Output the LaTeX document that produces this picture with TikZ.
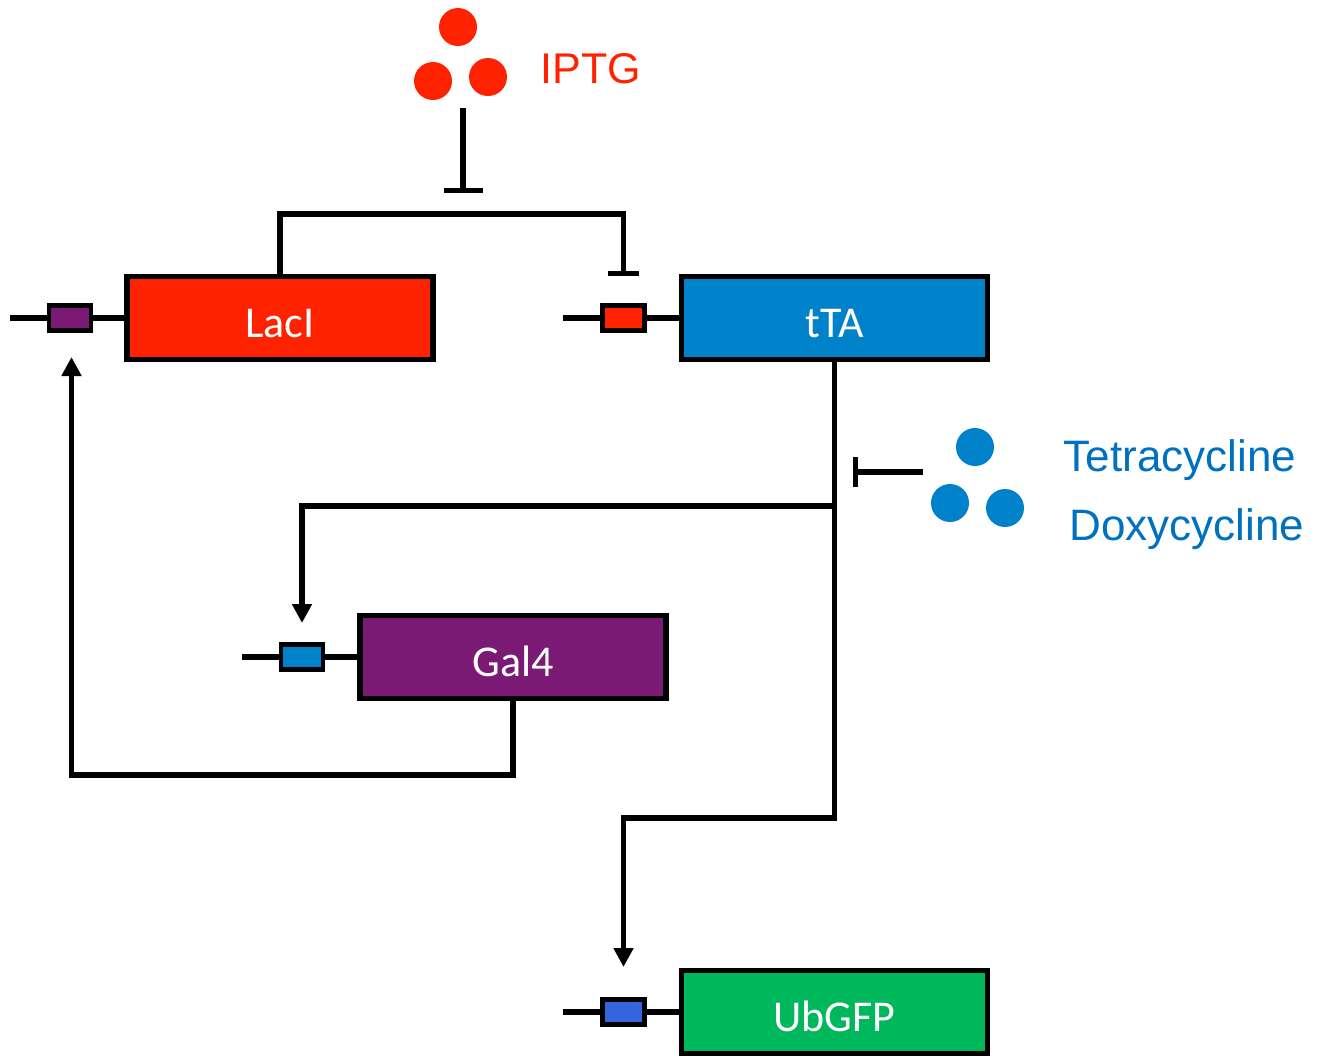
\documentclass[tikz,border=0pt]{standalone}
\usepackage{fontspec}
\setmainfont{Carlito}
\newfontfamily\arialf{Liberation Sans}
\usetikzlibrary{arrows.meta}
\definecolor{lacired}{HTML}{FF2200}
\definecolor{ttablue}{HTML}{0082CA}
\definecolor{galpurple}{HTML}{7A1A74}
\definecolor{gfpgreen}{HTML}{00B85C}
\definecolor{gfpprom}{HTML}{3366DD}
\definecolor{tetblue}{HTML}{0070C0}
\begin{document}
\begin{tikzpicture}[x=0.5pt,y=-0.5pt,line width=2.6pt,
  gene/.style={draw=black,line width=2.6pt,minimum width=153pt,minimum height=41.5pt,
    inner sep=0pt,text=white,font=\fontsize{22}{26}\selectfont,text height=19pt,text depth=0pt},
  prom/.style={draw=black,line width=2.2pt,minimum width=21pt,minimum height=12.5pt,inner sep=0pt},
  act/.style={-{Triangle[width=9.5pt,length=9.5pt]}},
  rep/.style={-{Bar[width=#1]}},
  mol/.style={circle,minimum size=19pt,inner sep=0pt},
  lbl/.style={font=\arialf\fontsize{21.5}{26}\selectfont,anchor=base west,inner sep=0pt}]
\useasboundingbox (0,0) rectangle (1321,1056);

% genes
\node[gene,fill=lacired] (laci) at (280,318) {LacI};
\node[gene,fill=ttablue] (tta) at (834.5,318) {tTA};
\node[gene,fill=galpurple] (gal4) at (513,657) {Gal4};
\node[gene,fill=gfpgreen] (ubgfp) at (834.5,1012) {UbGFP};

% promoters
\node[prom,fill=galpurple] (plac) at (70,318) {};
\node[prom,fill=lacired] (ptta) at (623.5,318) {};
\node[prom,fill=ttablue] (pgal) at (302,657) {};
\node[prom,fill=gfpprom] (pgfp) at (623.5,1012) {};

% backbones
\coordinate (lacstart) at (10,318);
\coordinate (ttastart) at (563,318);
\coordinate (galstart) at (242,657);
\coordinate (gfpstart) at (563,1012);
\draw (lacstart) -- (plac.west) (plac.east) -- (laci.west);
\draw (ttastart) -- (ptta.west) (ptta.east) -- (tta.west);
\draw (galstart) -- (pgal.west) (pgal.east) -- (gal4.west);
\draw (gfpstart) -- (pgfp.west) (pgfp.east) -- (ubgfp.west);

% IPTG
\node[mol,fill=lacired] (i1) at (458,27) {};
\node[mol,fill=lacired] (i2) at (433,81) {};
\node[mol,fill=lacired] (i3) at (488,77) {};
\node[lbl,text=lacired] (iptg) at (538,83) {IPTG};
\coordinate (iptgtop) at (463,108);
\coordinate (iptgbar) at (463,193);
\draw[rep=19.5pt] (iptgtop) -- (iptgbar);

% LacI represses tTA promoter
\coordinate (ttarep) at (623.5,276);
\coordinate (lacitop) at (280,214);
\draw[rep=15.5pt] (laci.north) -- (lacitop) -| (ttarep);

% tTA outputs
\coordinate (branch) at (834.5,506);
\coordinate (gfpbend) at (834.5,818);
\coordinate (galin) at (302,623);
\coordinate (gfpin) at (623.5,967);
\draw[act] (tta.south) -- (gfpbend) -| (gfpin);
\draw[act] (branch) -| (galin);

% Tetracycline / Doxycycline
\node[mol,fill=ttablue] (t1) at (975,447) {};
\node[mol,fill=ttablue] (t2) at (950,503) {};
\node[mol,fill=ttablue] (t3) at (1005,508) {};
\node[lbl,text=tetblue,font=\arialf\fontsize{22}{26}\selectfont] (tet) at (1061,471) {Tetracycline};
\node[lbl,text=tetblue,font=\arialf\fontsize{22}{26}\selectfont] (doxy) at (1067,540) {Doxycycline};
\coordinate (tetstart) at (923,472);
\coordinate (tetbar) at (853,472);
\draw[rep=15pt] (tetstart) -- (tetbar);

% Gal4 activates LacI promoter
\coordinate (galbend) at (513,775);
\coordinate (lacin) at (71.5,357);
\draw[act] (gal4.south) -- (galbend) -| (lacin);
\end{tikzpicture}
\end{document}
